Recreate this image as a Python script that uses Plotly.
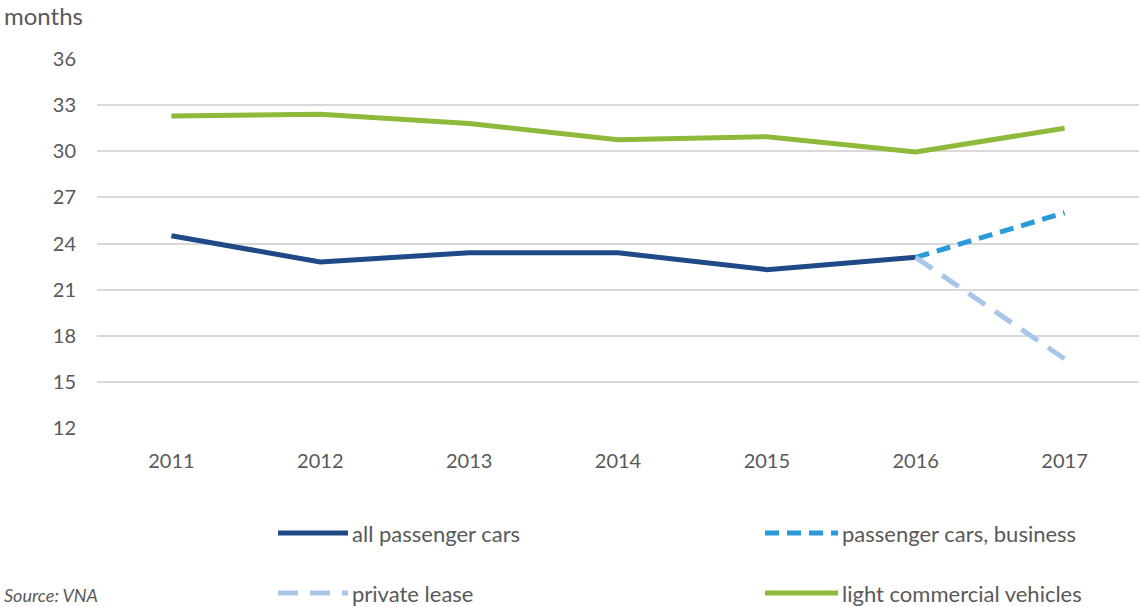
import plotly.graph_objects as go

years = ["2011", "2012", "2013", "2014", "2015", "2016", "2017"]
all_passenger_cars = [24.5, 22.8, 23.4, 23.4, 22.3, 23.1, None]
business_years = ["2016", "2017"]
business = [23.1, 26.0]
private_years = ["2016", "2017"]
private_lease = [23.1, 16.5]
light_commercial = [32.3, 32.4, 31.8, 30.75, 30.95, 29.95, 31.5]
y_ticks = [12, 15, 18, 21, 24, 27, 30, 33, 36]

W, H = 1141, 607
L, R, T, B = 97, 2, 59, 179
PW, PH = W - L - R, H - T - B

C_DARK = "#1F4A87"
C_BUS = "#2A9BD8"
C_PRIV = "#A8C6EA"
C_GREEN = "#8FB93A"
TXT = "#595959"
FONT = "Lato"


def px(x):
    return (x - L) / PW


def py(y):
    return 1 - (y - T) / PH


fig = go.Figure()
fig.add_trace(go.Scatter(x=years, y=all_passenger_cars, mode="lines",
                         line=dict(color=C_DARK, width=5), name="all passenger cars"))
fig.add_trace(go.Scatter(x=business_years, y=business, mode="lines",
                         line=dict(color=C_BUS, width=5, dash="14px,8px"),
                         name="passenger cars, business"))
fig.add_trace(go.Scatter(x=private_years, y=private_lease, mode="lines",
                         line=dict(color=C_PRIV, width=5, dash="20px,12px"),
                         name="private lease"))
fig.add_trace(go.Scatter(x=years, y=light_commercial, mode="lines",
                         line=dict(color=C_GREEN, width=5), name="light commercial vehicles"))

# hand-built two-column legend below the plot
legend_items = [
    ("all passenger cars", C_DARK, "solid", 278, 348, 533),
    ("passenger cars, business", C_BUS, "14px,8px", 765, 838, 533),
    ("private lease", C_PRIV, "20px,12px", 278, 348, 593),
    ("light commercial vehicles", C_GREEN, "solid", 765, 838, 593),
]
shapes = []
annotations = []
for label, color, dash, x0, x1, yy in legend_items:
    shapes.append(dict(type="line", xref="paper", yref="paper",
                       x0=px(x0), x1=px(x1), y0=py(yy), y1=py(yy),
                       line=dict(color=color, width=5, dash=dash)))
    annotations.append(dict(text=label, xref="paper", yref="paper",
                            x=px(x1 + 2), y=py(yy), xanchor="left", yanchor="middle",
                            showarrow=False, font=dict(size=22, color=TXT, family=FONT)))

annotations.append(dict(text="months", xref="paper", yref="paper",
                        x=px(2), y=py(16), xanchor="left", yanchor="middle",
                        showarrow=False, font=dict(size=24, color=TXT, family=FONT)))
annotations.append(dict(text="<i>Source: VNA</i>", xref="paper", yref="paper",
                        x=px(2), y=py(595), xanchor="left", yanchor="middle",
                        showarrow=False, font=dict(size=18, color=TXT, family=FONT)))

fig.update_layout(
    width=W, height=H,
    margin=dict(l=L, r=R, t=T, b=B),
    paper_bgcolor="white", plot_bgcolor="white",
    showlegend=False,
    font=dict(family=FONT, color=TXT, size=20),
    shapes=shapes, annotations=annotations,
    xaxis=dict(type="category", range=[-0.5, 6.5], showgrid=False,
               showline=False, zeroline=False, ticks="",
               ticklabelstandoff=19, tickfont=dict(size=20, color=TXT)),
    yaxis=dict(range=[12, 36], tickvals=y_ticks, showgrid=True,
               gridcolor="#D9D9D9", gridwidth=1.5, zeroline=False,
               showline=False, ticks="", ticklabelstandoff=20,
               tickfont=dict(size=20, color=TXT)),
)

fig.write_html("out.html")
